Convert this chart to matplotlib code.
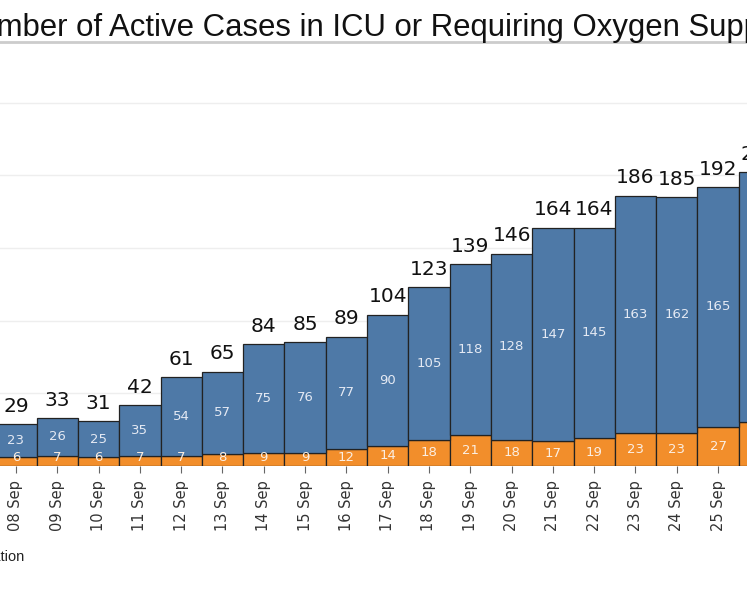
import matplotlib.pyplot as plt
import numpy as np

# data
dates = ['08 Sep', '09 Sep', '10 Sep', '11 Sep', '12 Sep', '13 Sep', '14 Sep',
         '15 Sep', '16 Sep', '17 Sep', '18 Sep', '19 Sep', '20 Sep', '21 Sep',
         '22 Sep', '23 Sep', '24 Sep', '25 Sep', '26 Sep']
icu = [6, 7, 6, 7, 7, 8, 9, 9, 12, 14, 18, 21, 18, 17, 19, 23, 23, 27, 30]
oxygen = [23, 26, 25, 35, 54, 57, 75, 76, 77, 90, 105, 118, 128, 147, 145,
          163, 162, 165, 172]

blue = '#4e79a7'
orange = '#f28e2b'

icu = np.array(icu)
oxygen = np.array(oxygen)
total = icu + oxygen
x = np.arange(len(dates))

fig = plt.figure(figsize=(7.47, 5.98), dpi=100)
ax = fig.add_axes([0, 132/598, 1, 407/598])

ax.bar(x, icu, width=1.0, color=orange, edgecolor='#222222', linewidth=0.9, zorder=2)
ax.bar(x, oxygen, bottom=icu, width=1.0, color=blue, edgecolor='#222222',
       linewidth=0.9, zorder=2)

for i in x:
    ax.text(i, max(icu[i] / 2, 6.0), str(icu[i]), ha='center', va='center',
            fontsize=9.5, color='#fbeee2', zorder=3)
    ax.text(i, icu[i] + oxygen[i] / 2, str(oxygen[i]), ha='center', va='center',
            fontsize=9.5, color='#e4e9f3', zorder=3)
    ax.annotate(str(total[i]), (i, total[i]), xytext=(0, 6), textcoords='offset points',
                ha='center', va='bottom', fontsize=14.5, color='#111111', zorder=3,
                annotation_clip=False)

ax.set_yticks([0, 50, 100, 150, 200, 250])
ax.yaxis.grid(True, color='#eeeeee', linewidth=1.0, zorder=0)
ax.set_axisbelow(True)
ax.tick_params(axis='y', left=False, labelleft=False)
ax.set_xticks(x)
ax.set_xticklabels(dates, rotation=90, fontsize=10.5, color='#333333')
ax.tick_params(axis='x', length=5, color='#666666', pad=5)
# limits after the ticks, otherwise set_xticks widens the view
ax.set_xlim(-0.387, 17.70)
ax.set_ylim(0, 280)
for s in ax.spines.values():
    s.set_visible(False)

# title, cut off on both sides like the source
fig.text(-0.058, 1 - 28/598, 'Number of Active Cases in ICU or Requiring Oxygen Support',
         ha='left', va='center', fontsize=22.4, family='Liberation Sans', color='#111111')
fig.add_artist(plt.Line2D([0, 1], [1 - 42/598, 1 - 42/598], color='#cccccc', linewidth=2))

# legend label, mostly off the left edge
fig.text(24/747, 1 - 557/598, 'Requiring Oxygen Supplementation', ha='right', va='center',
         fontsize=10.5, family='Liberation Sans', color='#222222')

fig.savefig('out.png', dpi=100)
